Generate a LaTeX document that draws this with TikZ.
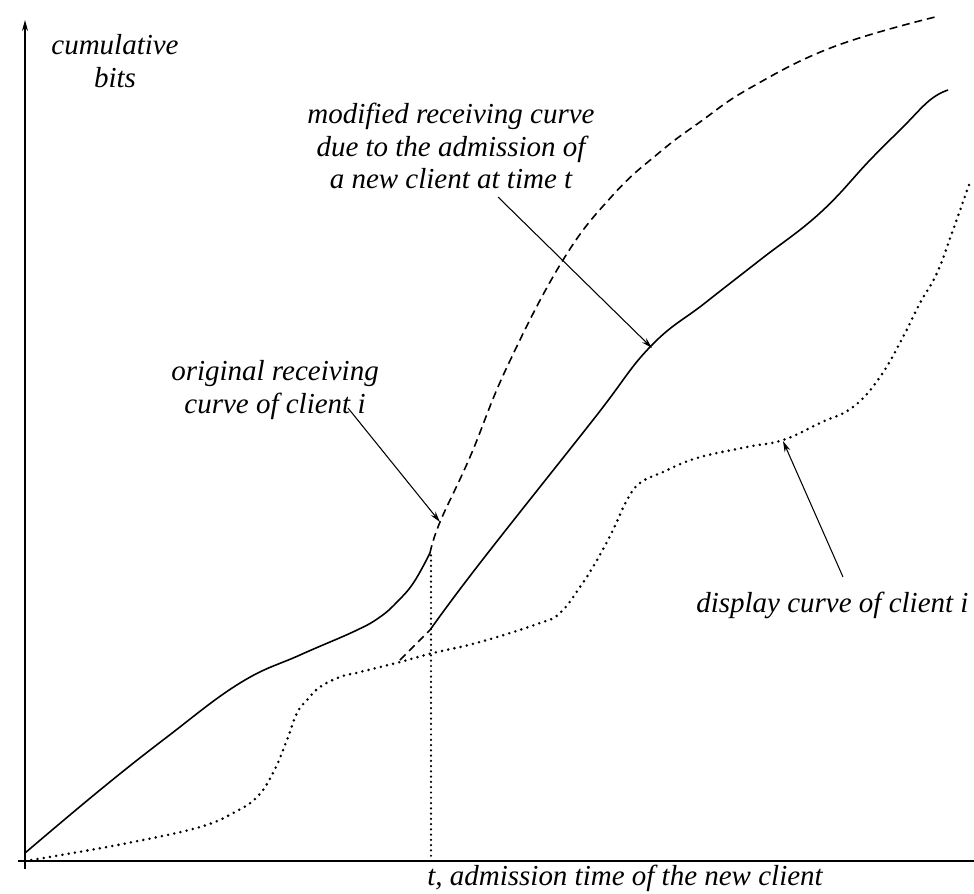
\documentclass[tikz,border=0pt]{standalone}
\usepackage{fontspec}
\setmainfont{Liberation Serif}
\usepackage{xcolor}
\usepackage{tikz}
\usetikzlibrary{calc}
\usetikzlibrary{arrows.meta}
\usetikzlibrary{positioning}
\tikzstyle{axisline}=[black, line width=0.8pt]
\tikzstyle{solidcurve}=[black, line width=0.9pt]
\tikzstyle{dashcurve}=[black, line width=0.9pt, dash pattern=on 4.5pt off 2.8pt]
\tikzstyle{dotcurve}=[black, line width=1.6pt, line cap=round, dash pattern=on 0pt off 3.6pt]
\tikzstyle{lbl}=[black, inner sep=0pt, align=center, font=\fontsize{16.5}{18.5}\selectfont\itshape]
\tikzstyle{pointer}=[black, line width=0.6pt, -{Stealth[length=0.22cm, width=0.12cm]}]

\begin{document}
\begin{tikzpicture}[x=0.02cm, y=-0.02cm]
\useasboundingbox (0,0) rectangle (974,893);

% axes
\coordinate (O) at (25,861);
\draw[axisline, -{Stealth[length=0.22cm, width=0.12cm]}] (25,869) -- (25,20);
\draw[axisline] (18,861) -- (974,861);

% original receiving curve of client i
\draw[solidcurve] plot[smooth, tension=0.7] coordinates {(25,853) (100,790) (167,737) (240,683) (300,655) (355,631) (380,617) (398,601) (414,582) (430,553)};
\draw[dashcurve] plot[smooth, tension=0.7] coordinates {(430,553) (440,522) (470,457) (507,367) (563,260) (613,195) (660,152) (700,122) (750,88) (833,47) (935,17)};

% modified receiving curve
\draw[dashcurve] (400,660) -- (430,630);
\draw[solidcurve] plot[smooth, tension=0.7] coordinates {(430,630) (480,563) (593,420) (650,347) (705,303) (760,260) (820,213) (870,160) (903,127) (930,100) (948,90)};

% display curve of client i
\draw[dotcurve] plot[smooth, tension=0.7] coordinates {(25,861) (67,854) (133,842) (200,827) (235,812) (257,797) (273,773) (287,740) (297,713) (307,700) (320,687) (340,677) (360,672) (400,662) (433,653) (480,642) (540,623) (560,613) (580,587) (597,560) (613,530) (627,500) (640,483) (663,472) (697,458) (747,447) (783,440) (820,423) (853,407) (880,377) (903,337) (920,303) (937,273) (953,230) (970,182)};

% admission time
\coordinate (tfoot) at (431,861);
\coordinate (ttop) at (431,553);
\draw[dotcurve, line width=1.4pt, dash pattern=on 0pt off 3pt] (tfoot) -- (ttop);

% labels
\node [lbl] (ylbl) at (115,61) {cumulative\\bits};
\node [lbl] (origlbl) at (275,390) {original receiving\\curve of client i};
\node [lbl] (modlbl) at (451,146) {modified receiving curve\\due to the admission of\\a new client at time t};
\node [lbl, anchor=base west] (displbl) at (696,612) {display curve of client i};
\node [lbl, anchor=base west] (tlbl) at (427,885) {t, admission time of the new client};

% pointers
\coordinate (origtail) at (348,408);
\coordinate (orighead) at (440,522);
\coordinate (modtail) at (498,197);
\coordinate (modhead) at (652,348);
\coordinate (disptail) at (843,577);
\coordinate (disphead) at (783,441);
\draw[pointer] (origtail) -- (orighead);
\draw[pointer] (modtail) -- (modhead);
\draw[pointer] (disptail) -- (disphead);
\end{tikzpicture}
\end{document}
